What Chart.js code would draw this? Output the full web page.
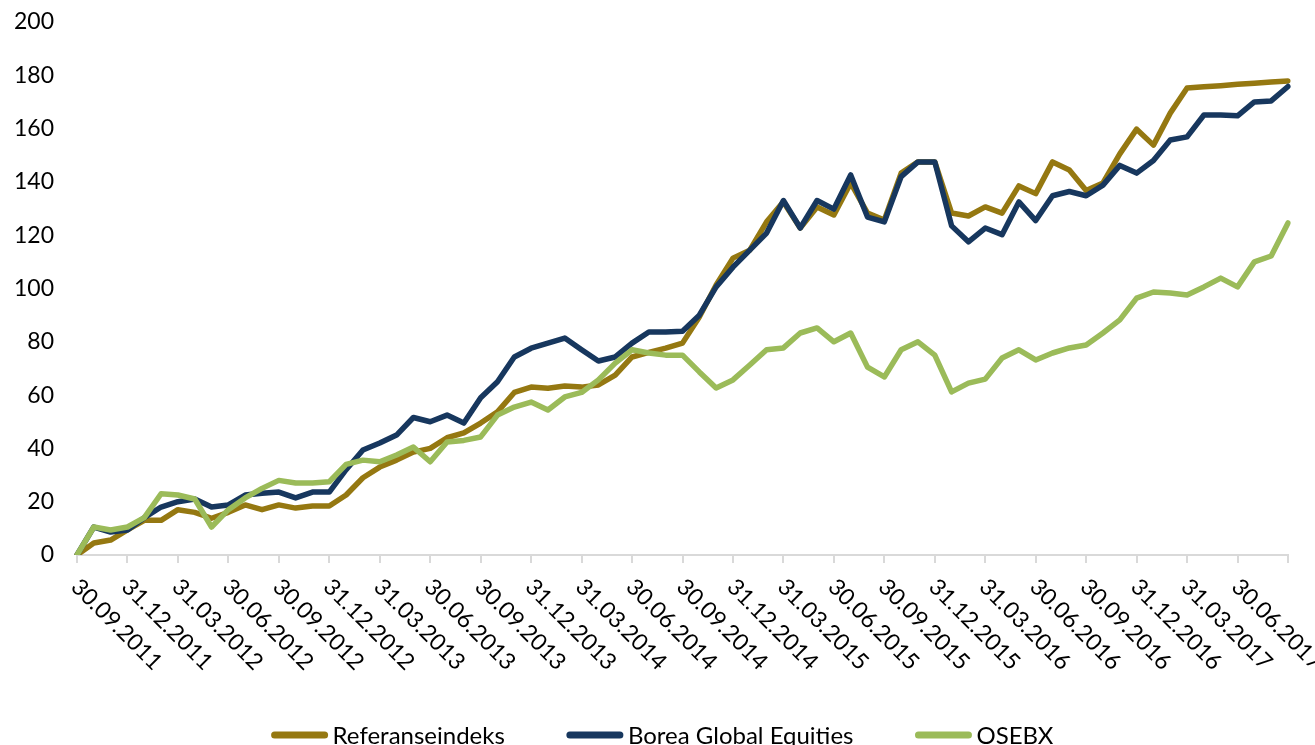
<!DOCTYPE html>
<html>
<head>
<meta charset="utf-8">
<script src="https://cdn.jsdelivr.net/npm/chart.js@4.4.1/dist/chart.umd.min.js"></script>
<style>
  html, body { margin: 0; padding: 0; background: #fff; }
  canvas { display: block; }
</style>
</head>
<body>
<canvas id="chart" width="1315" height="745"></canvas>
<script>
// Månedlige datoer (etikett hvert kvartal)
const datoer = [
  "30.09.2011", "31.10.2011", "30.11.2011", "31.12.2011",
  "31.01.2012", "29.02.2012", "31.03.2012", "30.04.2012", "31.05.2012", "30.06.2012",
  "31.07.2012", "31.08.2012", "30.09.2012", "31.10.2012", "30.11.2012", "31.12.2012",
  "31.01.2013", "28.02.2013", "31.03.2013", "30.04.2013", "31.05.2013", "30.06.2013",
  "31.07.2013", "31.08.2013", "30.09.2013", "31.10.2013", "30.11.2013", "31.12.2013",
  "31.01.2014", "28.02.2014", "31.03.2014", "30.04.2014", "31.05.2014", "30.06.2014",
  "31.07.2014", "31.08.2014", "30.09.2014", "31.10.2014", "30.11.2014", "31.12.2014",
  "31.01.2015", "28.02.2015", "31.03.2015", "30.04.2015", "31.05.2015", "30.06.2015",
  "31.07.2015", "31.08.2015", "30.09.2015", "31.10.2015", "30.11.2015", "31.12.2015",
  "31.01.2016", "29.02.2016", "31.03.2016", "30.04.2016", "31.05.2016", "30.06.2016",
  "31.07.2016", "31.08.2016", "30.09.2016", "31.10.2016", "30.11.2016", "31.12.2016",
  "31.01.2017", "28.02.2017", "31.03.2017", "30.04.2017", "31.05.2017", "30.06.2017",
  "31.07.2017", "31.08.2017", "30.09.2017"
];

const referanse = [
  0, 4.5, 5.6, 9.4, 13, 13, 17, 16, 13.8, 16,
  18.8, 17, 18.8, 17.6, 18.4, 18.4, 22.5, 29, 33, 35.6,
  38.6, 40, 44, 45.8, 49.5, 53.7, 61, 63, 62.6, 63.4,
  63, 63.8, 67.5, 74.3, 76, 77.6, 79.5, 89.3, 101.3, 111.4,
  114.4, 125, 132.5, 122.7, 130.6, 127.6, 139.6, 128.3, 125.7, 143.3,
  147.5, 147.5, 128.3, 127.2, 130.6, 128.3, 138.5, 135.6, 147.5, 144.5,
  136.8, 139.6, 150.5, 159.8, 153.8, 165.8, 175.2, 175.7, 176.1, 176.6,
  177.0, 177.5, 177.9
];

const borea = [
  0, 10.5, 8.6, 9.4, 14, 18, 20, 21, 18, 18.8,
  22.5, 23.2, 23.6, 21.4, 23.6, 23.6, 32, 39.4, 42, 45,
  51.6, 50, 52.5, 49.5, 59, 65, 74.3, 77.6, 79.5, 81.4,
  77, 72.8, 74.3, 79.5, 83.7, 83.7, 84, 90, 100.6, 108,
  114.4, 120.8, 133, 122.7, 133, 129.8, 142.6, 126.8, 125, 142,
  147.5, 147.5, 123.5, 117.5, 122.7, 120.2, 132.5, 125.5, 134.8, 136.4,
  134.8, 138.8, 146.2, 143.3, 148, 155.7, 156.9, 165.1, 165.1, 164.8,
  170, 170.4, 175.8
];

const osebx = [
  0, 10.5, 9.4, 10.5, 14, 23, 22.5, 21, 10.5, 17,
  21.4, 25, 28, 27, 27, 27.5, 34, 35.6, 35, 37.5,
  40.5, 35, 42.4, 43, 44.3, 52.5, 55.5, 57.4, 54.4, 59.3,
  61, 65.7, 72, 77, 75.8, 75, 75, 68.7, 62.7, 65.7,
  71.3, 77, 77.7, 83.3, 85.2, 80, 83.3, 70.5, 66.8, 77,
  80, 75, 61.2, 64.5, 66, 73.9, 77, 73.2, 75.8, 77.7,
  78.8, 83.3, 88.2, 96.4, 98.7, 98.3, 97.6, 100.6, 103.9, 100.6,
  110, 112.2, 124.6
];

const serieNavn = ["Referanseindeks", "Borea Global Equities", "OSEBX"];
const farger = ["#957811", "#17375E", "#9BBB59"];

const FONT = "Lato, 'Open Sans', sans-serif";

// Roterte datoetiketter under x-aksen (tekst starter ved tick og går ned mot høyre)
const datoEtiketter = {
  id: "datoEtiketter",
  afterDraw(chart) {
    const ctx = chart.ctx;
    const x = chart.scales.x;
    ctx.save();
    ctx.font = "23px " + FONT;
    ctx.fillStyle = "#000";
    ctx.textAlign = "left";
    ctx.textBaseline = "middle";
    datoer.forEach((d, i) => {
      if (i % 3 !== 0 || i === datoer.length - 1) return;
      const px = x.getPixelForTick(i);
      ctx.save();
      ctx.translate(px - 2, x.top + 28);
      ctx.rotate(Math.PI / 4);
      ctx.fillText(d, 0, 0);
      ctx.restore();
    });
    ctx.restore();
  }
};

// Egen tegnforklaring nederst
const tegnforklaring = {
  id: "tegnforklaring",
  afterDraw(chart) {
    const ctx = chart.ctx;
    ctx.save();
    ctx.font = "24px " + FONT;
    const linje = 56, gap = 5, mellom = 62;
    const sets = chart.data.datasets;
    const bredder = sets.map(ds => ctx.measureText(ds.label).width);
    const total = bredder.reduce((s, w) => s + linje + gap + w, 0) + mellom * (sets.length - 1);
    let x = (chart.width - total) / 2 + 5;
    const y = 735;
    sets.forEach((ds, i) => {
      ctx.beginPath();
      ctx.strokeStyle = ds.borderColor;
      ctx.lineWidth = 7;
      ctx.lineCap = "round";
      ctx.moveTo(x + 3, y);
      ctx.lineTo(x + linje - 3, y);
      ctx.stroke();
      ctx.fillStyle = "#000";
      ctx.textAlign = "left";
      ctx.textBaseline = "middle";
      ctx.fillText(ds.label, x + linje + gap, y + 1);
      x += linje + gap + bredder[i] + mellom;
    });
    ctx.restore();
  }
};

const serier = [referanse, borea, osebx];

new Chart(document.getElementById("chart"), {
  type: "line",
  data: {
    labels: datoer,
    datasets: serier.map((data, i) => ({
      label: serieNavn[i],
      data: data,
      borderColor: farger[i],
      backgroundColor: farger[i],
      borderWidth: 5.5,
      borderJoinStyle: "round",
      borderCapStyle: "round",
      pointRadius: 0,
      tension: 0,
      fill: false,
      order: 3 - i
    }))
  },
  options: {
    responsive: false,
    animation: false,
    devicePixelRatio: 1,
    layout: { padding: { top: 22, right: 27, left: 0, bottom: 0 } },
    plugins: {
      legend: { display: false },
      tooltip: { enabled: false }
    },
    scales: {
      x: {
        type: "category",
        offset: false,
        afterFit(scale) { scale.height = 190; },
        grid: {
          display: true,
          drawOnChartArea: false,
          drawTicks: true,
          tickLength: 8,
          lineWidth: 2,
          color: c => (c.index % 3 === 0 ? "#D9D9D9" : "rgba(0,0,0,0)")
        },
        border: { display: true, color: "#D9D9D9", width: 2 },
        ticks: { display: false, autoSkip: false }
      },
      y: {
        min: 0,
        max: 200,
        afterFit(scale) {
          scale.width = 77;
          scale.paddingTop = 0;
        },
        grid: { display: false },
        border: { display: false },
        ticks: {
          stepSize: 20,
          padding: 15,
          color: "#000",
          font: { family: FONT, size: 23 }
        }
      }
    }
  },
  plugins: [datoEtiketter, tegnforklaring]
});
</script>
</body>
</html>
